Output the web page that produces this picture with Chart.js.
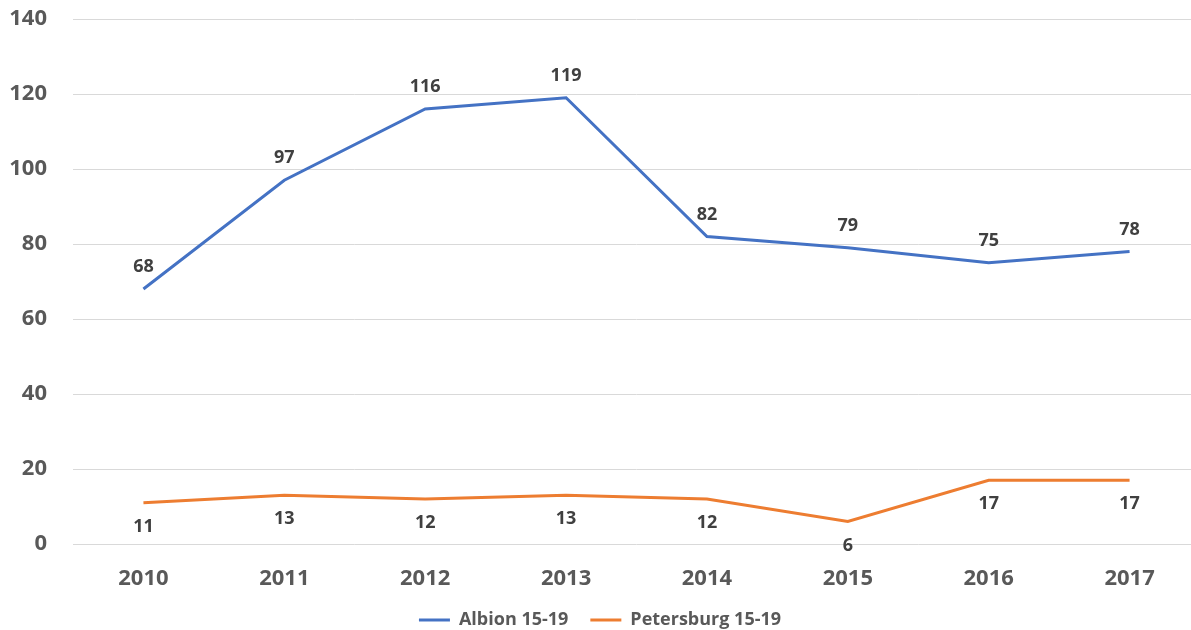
<!DOCTYPE html>
<html>
<head>
<meta charset="utf-8">
<script src="https://cdn.jsdelivr.net/npm/chart.js@4/dist/chart.umd.min.js"></script>
<style>
    html, body { margin: 0; padding: 0; background: #fff; overflow: hidden; }
    #wrap { width: 1200px; height: 630px; }
</style>
</head>
<body>
<div id="wrap"><canvas id="myChart"></canvas></div>
<script>
const years = ['2010', '2011', '2012', '2013', '2014', '2015', '2016', '2017']
const albion = [68, 97, 116, 119, 82, 79, 75, 78]
const petersburg = [11, 13, 12, 13, 12, 6, 17, 17]

const fontFamily = '"Open Sans", "Liberation Sans", sans-serif'
const axisGray = '#595959'

// simple value labels, blue above the line, orange below it
const pointLabels = {
    id: 'pointLabels',
    afterDatasetsDraw: (chart) => {
        const ctx = chart.ctx
        ctx.save()
        ctx.font = `bold 18px ${fontFamily}`
        ctx.fillStyle = '#404040'
        ctx.textAlign = 'center'
        ctx.textBaseline = 'middle'
        chart.data.datasets.forEach((dataset, i) => {
            const meta = chart.getDatasetMeta(i)
            const offset = i === 0 ? -22 : 24
            meta.data.forEach((point, j) => {
                ctx.fillText(dataset.data[j], point.x, point.y + offset)
            })
        })
        ctx.restore()
    }
}

const ctx = document.getElementById('myChart').getContext('2d')

const myChart = new Chart(ctx, {
    type: 'line',
    data: {
        labels: years,
        datasets: [{
            label: 'Albion 15-19',
            data: albion,
            borderColor: '#4472C4',
            backgroundColor: '#4472C4',
            borderWidth: 3,
            pointRadius: 0,
            tension: 0
        }, {
            label: 'Petersburg 15-19',
            data: petersburg,
            borderColor: '#ED7D31',
            backgroundColor: '#ED7D31',
            borderWidth: 3,
            pointRadius: 0,
            tension: 0
        }]
    },
    options: {
        responsive: true,
        maintainAspectRatio: false,
        animation: false,
        layout: {
            padding: { top: 19, left: 0, right: 0, bottom: -9 }
        },
        scales: {
            x: {
                offset: true,
                grid: { display: false, drawTicks: false },
                border: { display: false },
                ticks: {
                    color: axisGray,
                    font: { family: fontFamily, size: 22, weight: 'bold' },
                    padding: 22,
                    maxRotation: 0
                },
                afterFit: (scale) => { scale.height = 45 }
            },
            y: {
                min: 0,
                max: 140,
                grid: { color: '#D9D9D9', lineWidth: 1, drawTicks: false },
                border: { display: false },
                ticks: {
                    stepSize: 20,
                    color: axisGray,
                    font: { family: fontFamily, size: 22, weight: 'bold' },
                    padding: 26
                },
                afterFit: (scale) => {
                    scale.width = 73
                    scale.paddingTop = 0
                    scale.paddingBottom = 0
                }
            }
        },
        plugins: {
            legend: {
                position: 'bottom',
                labels: {
                    usePointStyle: true,
                    pointStyle: 'line',
                    pointStyleWidth: 31,
                    color: axisGray,
                    font: { family: fontFamily, size: 18, weight: 'bold' },
                    padding: 22
                }
            },
            tooltip: { enabled: false }
        }
    },
    plugins: [pointLabels]
})
</script>
</body>
</html>
